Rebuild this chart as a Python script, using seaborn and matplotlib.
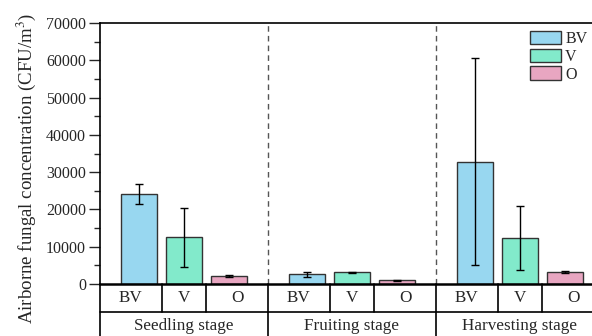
import matplotlib
matplotlib.use("Agg")
import matplotlib.pyplot as plt
import matplotlib.transforms as mtransforms
from matplotlib.ticker import MultipleLocator
import seaborn as sns
import pandas as pd

stages = ["Seedling stage", "Fruiting stage", "Harvesting stage"]
cats = ["BV", "V", "O"]
bv_mean = [24200, 2600, 32800]
v_mean = [12500, 3100, 12400]
o_mean = [2200, 950, 3250]
bv_err = [2650, 600, 27800]
v_err = [8000, 150, 8600]
o_err = [200, 150, 350]
colors = ["#98D7F0", "#82EACB", "#E8A6C1"]

means = {"BV": bv_mean, "V": v_mean, "O": o_mean}
errs = {"BV": bv_err, "V": v_err, "O": o_err}
rows = []
for c in cats:
    for s, m in zip(stages, means[c]):
        rows.append({"stage": s, "cat": c, "value": m})
df = pd.DataFrame(rows)

sns.set_theme(style="ticks")
plt.rcParams["font.family"] = ["Liberation Serif", "DejaVu Serif"]
plt.rcParams["mathtext.fontset"] = "stix"
FS = 11.5
TFS = 12.3

W, H = 592, 336
fig = plt.figure(figsize=(W / 100, H / 100), dpi=100)
left, right, top, bottom = 100, 604, 23, 284
ax = fig.add_axes([left / W, 1 - bottom / H, (right - left) / W, (bottom - top) / H])

sns.barplot(data=df, x="stage", y="value", hue="cat", order=stages, hue_order=cats,
            palette=colors, gap=0.2, edgecolor="#333333", linewidth=1.0,
            saturation=1, errorbar=None, ax=ax)

for cont, c in zip(ax.containers, cats):
    xs = [p.get_x() + p.get_width() / 2 for p in cont]
    hs = [p.get_height() for p in cont]
    ax.errorbar(xs, hs, yerr=errs[c], fmt="none", ecolor="black", elinewidth=1.0,
                capsize=3, capthick=1.0, zorder=5)

ax.set_xlim(-0.5, 2.5)
ax.set_ylim(0, 70000)
ax.yaxis.set_major_locator(MultipleLocator(10000))
ax.yaxis.set_minor_locator(MultipleLocator(5000))
ax.tick_params(axis="y", which="major", direction="out", length=8, width=1.0, labelsize=FS, pad=2)
ax.tick_params(axis="y", which="minor", direction="out", length=4, width=1.0)
ax.tick_params(axis="x", which="both", length=0, labelbottom=False)
ax.set_xlabel("")
ax.set_ylabel("")
for sp in ax.spines.values():
    sp.set_color("black")
    sp.set_linewidth(1.2)
ax.spines["bottom"].set_linewidth(1.8)

for xb in [0.5, 1.5]:
    ax.axvline(xb, color="#555555", lw=1.0, dashes=(4, 3), zorder=0)

# category/stage table below
trans = mtransforms.blended_transform_factory(ax.transData, fig.transFigure)
y0 = 1 - bottom / H
y_row = 1 - 312 / H
lkw = dict(transform=trans, color="black", lw=1.2, clip_on=False)
ax.plot([-0.5, 2.6], [y_row, y_row], **lkw)
ax.plot([-0.5, -0.5], [y0, 0], **lkw)
step = 0.8 / 3
for gi, s in enumerate(stages):
    edges = [gi - 0.5, gi - step / 2, gi + step / 2, gi + 0.5]
    for k, c in enumerate(cats):
        xc = (edges[k] + edges[k + 1]) / 2
        ax.text(xc, 1 - 298 / H, c, transform=trans, ha="center", va="center", fontsize=TFS)
    for d in [-step / 2, step / 2]:
        ax.plot([gi + d, gi + d], [y0, y_row], **lkw)
    ax.text(gi, 1 - 326 / H, s, transform=trans, ha="center", va="center", fontsize=TFS)
for xb in [0.5, 1.5]:
    ax.plot([xb, xb], [y0, 0], **lkw)

fig.text(26 / W, 1 - 168 / H, "Airborne fungal concentration (CFU/m$^3$)",
         rotation=90, ha="center", va="center", fontsize=13.6)

handles, labels = ax.get_legend_handles_labels()
if ax.get_legend() is not None:
    ax.get_legend().remove()
fig.legend(handles, labels, loc="upper left", bbox_to_anchor=(530 / W, 1 - 31 / H),
           bbox_transform=fig.transFigure, frameon=False, fontsize=FS,
           handlelength=1.95, handleheight=0.9, labelspacing=0.1, handletextpad=0.25,
           borderpad=0, borderaxespad=0)

fig.savefig("out.png", dpi=100)
